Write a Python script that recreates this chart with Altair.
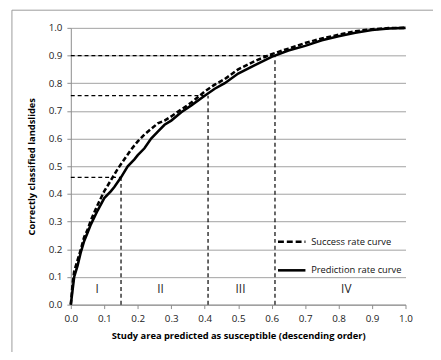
import altair as alt
import pandas as pd

# Success rate curve (dashed)
succ_x = [0, 0.005, 0.01, 0.02, 0.03, 0.04, 0.05, 0.06, 0.08, 0.10, 0.12, 0.14, 0.16, 0.18, 0.20,
          0.22, 0.24, 0.26, 0.28, 0.30, 0.33, 0.36, 0.40, 0.43, 0.46, 0.50, 0.55, 0.60, 0.65,
          0.70, 0.75, 0.80, 0.85, 0.90, 0.95, 1.0]
succ_y = [0, 0.07, 0.12, 0.16, 0.20, 0.245, 0.27, 0.305, 0.36, 0.41, 0.45, 0.49, 0.525, 0.56, 0.59,
          0.615, 0.635, 0.655, 0.665, 0.68, 0.705, 0.73, 0.77, 0.795, 0.815, 0.85, 0.88, 0.905, 0.925,
          0.945, 0.962, 0.975, 0.988, 0.995, 0.999, 1.0]

# Prediction rate curve (solid)
pred_x = [0, 0.005, 0.01, 0.015, 0.02, 0.03, 0.04, 0.05, 0.06, 0.08, 0.10, 0.12, 0.13, 0.15, 0.17,
          0.19, 0.20, 0.22, 0.24, 0.26, 0.28, 0.30, 0.33, 0.36, 0.40, 0.43, 0.46, 0.50, 0.55, 0.60,
          0.65, 0.70, 0.75, 0.80, 0.85, 0.90, 0.95, 1.0]
pred_y = [0, 0.05, 0.10, 0.12, 0.14, 0.19, 0.23, 0.26, 0.29, 0.34, 0.385, 0.41, 0.425, 0.46, 0.50,
          0.525, 0.54, 0.565, 0.60, 0.625, 0.65, 0.665, 0.695, 0.72, 0.755, 0.78, 0.80, 0.835, 0.865, 0.895,
          0.918, 0.935, 0.955, 0.97, 0.982, 0.992, 0.998, 1.0]

# Class break reference lines
ref_x = [0.15, 0.41, 0.61]
ref_y = [0.46, 0.755, 0.90]

# Class labels
class_labels = ["I", "II", "III", "IV"]
class_x = [0.079, 0.268, 0.507, 0.823]
class_y = [0.057, 0.057, 0.057, 0.057]

# Legend entries
legend_names = ["Success rate curve", "Prediction rate curve"]
legend_y = [0.227, 0.124]

# Tick values
tick_vals = [0.0, 0.1, 0.2, 0.3, 0.4, 0.5, 0.6, 0.7, 0.8, 0.9, 1.0]

FONT = "Open Sans"
xs = alt.Scale(domain=[0, 1], nice=False)
ys = alt.Scale(domain=[0, 1], nice=False)

x_axis = alt.Axis(title="Study area predicted as susceptible (descending order)",
                  values=tick_vals, format=".1f", grid=False, labelOverlap=False,
                  labelFlush=False,
                  domainColor="#8c8c8c", tickColor="#8c8c8c", tickSize=4,
                  labelFont=FONT, labelFontSize=10, labelColor="#222",
                  labelPadding=5, titleFont=FONT, titleFontSize=9.5,
                  titleFontWeight="bold", titleColor="#000", titlePadding=8)
y_axis = alt.Axis(title="Correctly classified landslides",
                  values=tick_vals, format=".1f", grid=True, labelOverlap=False,
                  labelFlush=False,
                  gridColor="#a0a0a0", gridWidth=1,
                  domainColor="#8c8c8c", tickColor="#8c8c8c", tickSize=4,
                  labelFont=FONT, labelFontSize=10, labelColor="#222",
                  labelPadding=5, titleFont=FONT, titleFontSize=9.5,
                  titleFontWeight="bold", titleColor="#000", titlePadding=12)


def X(field):
    return alt.X(field, scale=xs, axis=x_axis)


def Y(field):
    return alt.Y(field, scale=ys, axis=y_axis)


succ = pd.DataFrame({"x": succ_x, "y": succ_y})
pred = pd.DataFrame({"x": pred_x, "y": pred_y})

border = alt.Chart(pd.DataFrame({"a": [0]})).mark_rect(
    fill=None, stroke="#9a9a9a", strokeWidth=1, clip=False
).encode(x=alt.value(-60), x2=alt.value(400), y=alt.value(-18), y2=alt.value(360))

hdf = pd.DataFrame({"x0": [0.0, 0.0, 0.0], "x1": ref_x, "y": ref_y})
vdf = pd.DataFrame({"x": ref_x, "y0": [0.0, 0.0, 0.0], "y1": ref_y})
hlines = alt.Chart(hdf).mark_rule(color="black", strokeWidth=1.2, strokeDash=[4, 3]).encode(
    x=X("x0:Q"), x2="x1:Q", y=Y("y:Q"))
vlines = alt.Chart(vdf).mark_rule(color="black", strokeWidth=1.2, strokeDash=[4, 3]).encode(
    x=X("x:Q"), y=Y("y0:Q"), y2="y1:Q")

succ_line = alt.Chart(succ).mark_line(color="black", strokeWidth=2.6, strokeDash=[5, 2.5]).encode(
    x=X("x:Q"), y=Y("y:Q"))
pred_line = alt.Chart(pred).mark_line(color="black", strokeWidth=2.6).encode(
    x=X("x:Q"), y=Y("y:Q"))

cls = pd.DataFrame({"t": class_labels, "x": class_x, "y": class_y})
cls_text = alt.Chart(cls).mark_text(font=FONT, fontSize=12, baseline="middle").encode(
    x=X("x:Q"), y=Y("y:Q"), text="t:N", color=alt.value("#222"))

leg = pd.DataFrame({"name": legend_names, "y": legend_y, "x0": [0.619, 0.619], "x1": [0.701, 0.701],
                    "tx": [0.718, 0.718]})
leg_dash = alt.Chart(leg.iloc[[0]]).mark_rule(color="black", strokeWidth=2.6, strokeDash=[6, 3]).encode(
    x=X("x0:Q"), x2="x1:Q", y=Y("y:Q"))
leg_solid = alt.Chart(leg.iloc[[1]]).mark_rule(color="black", strokeWidth=2.6).encode(
    x=X("x0:Q"), x2="x1:Q", y=Y("y:Q"))
leg_text = alt.Chart(leg).mark_text(font=FONT, fontSize=9.5, align="left", baseline="middle").encode(
    x=X("tx:Q"), y=Y("y:Q"), text="name:N", color=alt.value("#111"))

chart = alt.layer(
    border, hlines, vlines, succ_line, pred_line, cls_text, leg_dash, leg_solid, leg_text
).properties(
    width=341, height=282,
    autosize=alt.AutoSizeParams(type="none"),
    padding={"left": 64, "top": 17, "right": 28, "bottom": 45},
    background="white",
).configure_view(stroke=None)

chart.save("out.html", embed_options={"renderer": "svg", "actions": False})
